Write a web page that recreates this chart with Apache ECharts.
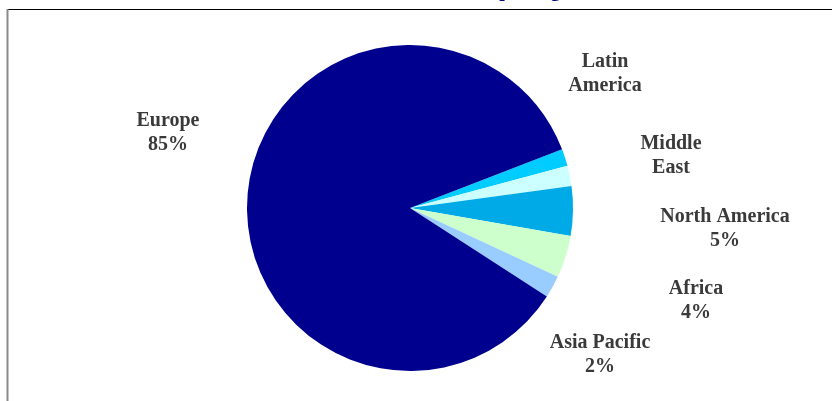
<!DOCTYPE html>
<html>
<head>
<meta charset="utf-8">
<script src="https://cdn.jsdelivr.net/npm/echarts@6/dist/echarts.min.js"></script>
<style>
html,body{margin:0;padding:0;background:#fff;}
#chart{width:832px;height:401px;}
</style>
</head>
<body>
<div id="chart"></div>
<script>
// ---- data ----
const titleText = 'Sales per region';
const categories = ['Latin America', 'Middle East', 'North America', 'Africa', 'Asia Pacific', 'Europe'];
const values = [1.7, 2.0, 4.9, 4.2, 2.2, 85.0];
const showPercent = [false, false, true, true, true, true];

// ---- styles ----
const colors = ['#00CCFF', '#CCFFFF', '#00AAE6', '#CCFFCC', '#99CCFF', '#00008E'];
const labelPos = [[605, 74], [671, 156], [725, 229], [696, 301], [600, 355], [168, 133]];

const chart = echarts.init(document.getElementById('chart'), null, {renderer: 'canvas'});
const option = {
  backgroundColor: '#ffffff',
  animation: false,
  title: {
    text: titleText,
    left: 446,
    top: -24,
    textStyle: {fontFamily: 'Liberation Serif', fontWeight: 'bold', fontSize: 20, color: '#000080'}
  },
  graphic: [
    {type: 'line', shape: {x1: 8, y1: 9.5, x2: 832, y2: 9.5}, style: {stroke: '#000000', lineWidth: 1}},
    {type: 'line', shape: {x1: 7.5, y1: 9, x2: 7.5, y2: 401}, style: {stroke: '#8a8a8a', lineWidth: 2}}
  ],
  series: [{
    type: 'pie',
    center: [410, 208],
    radius: 163,
    startAngle: 21.1,
    clockwise: true,
    avoidLabelOverlap: false,
    itemStyle: {borderWidth: 0},
    labelLine: {show: false},
    emphasis: {disabled: true},
    label: {
      show: true,
      position: 'outside',
      fontFamily: 'Liberation Serif',
      fontWeight: 'bold',
      fontSize: 20,
      lineHeight: 24,
      color: '#3a3a3a',
      align: 'center',
      formatter: function (p) {
        if (showPercent[p.dataIndex]) {
          return p.name + '\n' + Math.round(p.percent) + '%';
        }
        return p.name.replace(' ', '\n');
      }
    },
    labelLayout: function (params) {
      const pos = labelPos[params.dataIndex];
      return {x: pos[0], y: pos[1], align: 'center', verticalAlign: 'middle'};
    },
    data: categories.map(function (c, i) {
      return {name: c, value: values[i], itemStyle: {color: colors[i]}};
    })
  }]
};
chart.setOption(option);
</script>
</body>
</html>
